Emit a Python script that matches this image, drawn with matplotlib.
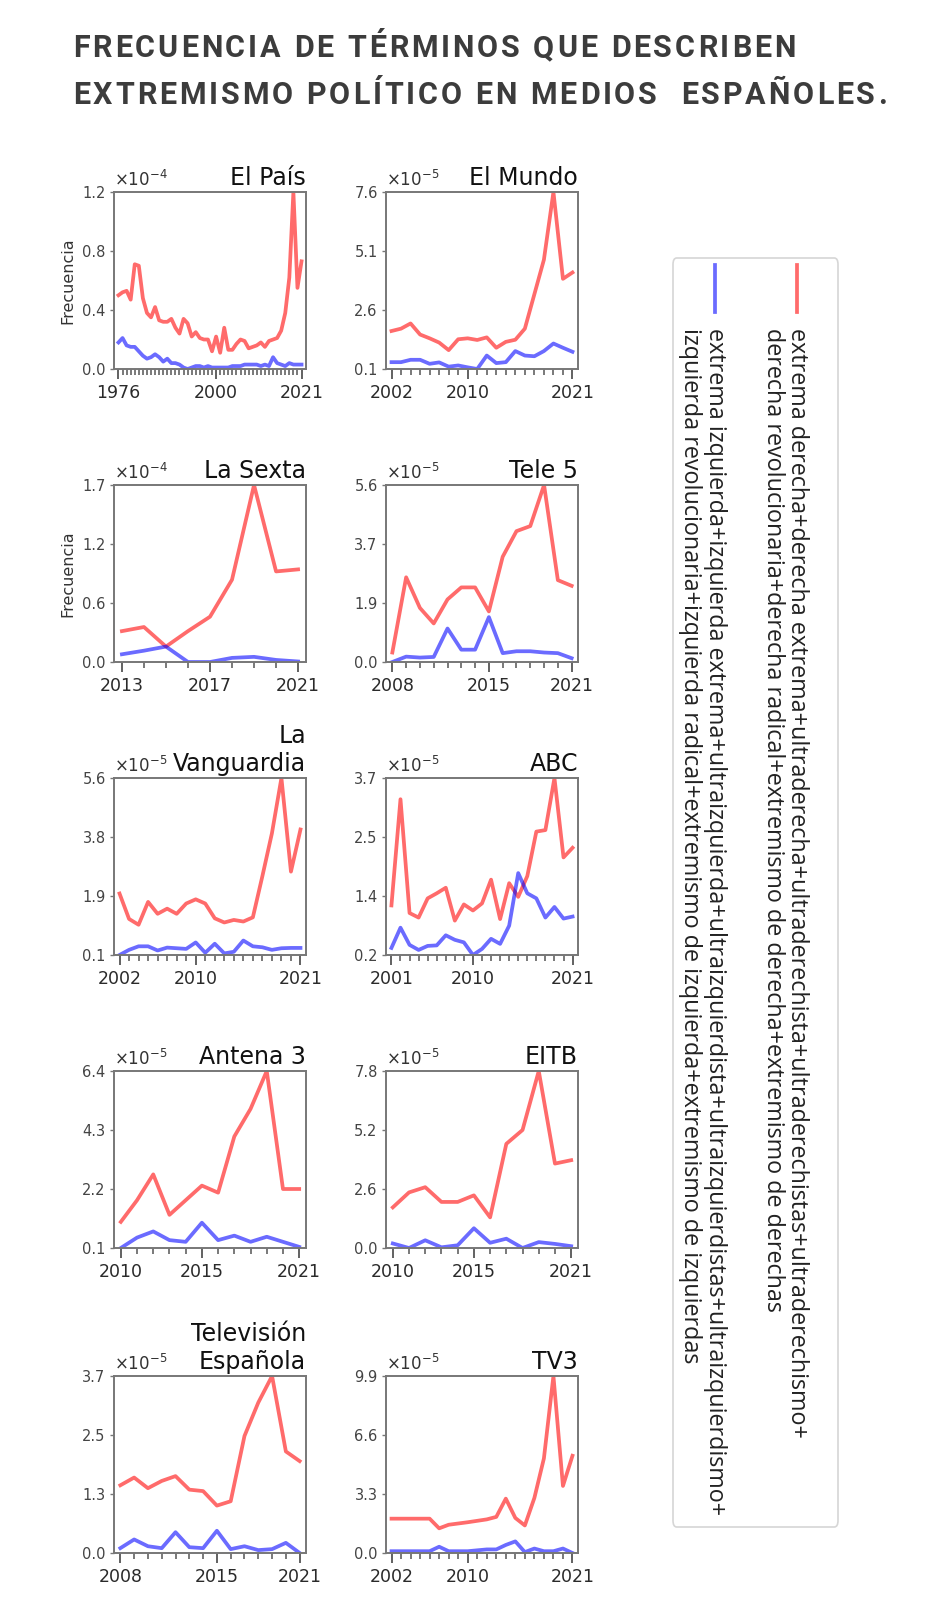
import numpy as np
import matplotlib
matplotlib.use("Agg")
import matplotlib.pyplot as plt
from matplotlib.patches import FancyBboxPatch
from matplotlib.lines import Line2D
from matplotlib.ticker import FixedLocator
from matplotlib.font_manager import FontProperties

# ---------------- data ----------------
TITLE_LINES = ["FRECUENCIA DE TÉRMINOS QUE DESCRIBEN",
               "EXTREMISMO POLÍTICO EN MEDIOS  ESPAÑOLES."]

media = ["El País", "El Mundo", "La Sexta", "Tele 5", "La\nVanguardia",
         "ABC", "Antena 3", "EITB", "Televisión\nEspañola", "TV3"]
first_year = [1976, 2002, 2013, 2008, 2002, 2001, 2010, 2010, 2008, 2002]
xtick_labels = [[1976, 2000, 2021], [2002, 2010, 2021], [2013, 2017, 2021],
                [2008, 2015, 2021], [2002, 2010, 2021], [2001, 2010, 2021],
                [2010, 2015, 2021], [2010, 2015, 2021], [2008, 2015, 2021],
                [2002, 2010, 2021]]
exponents = [-4, -5, -4, -5, -5, -5, -5, -5, -5, -5]
ylabel_on = [True, False, True, False, False, False, False, False, False, False]

legend_labels = [
    "extrema derecha+derecha extrema+ultraderecha+ultraderechista+ultraderechistas+ultraderechismo+",
    "derecha revolucionaria+derecha radical+extremismo de derecha+extremismo de derechas",
    "extrema izquierda+izquierda extrema+ultraizquierda+ultraizquierdista+ultraizquierdistas+ultraizquierdismo+",
    "izquierda revolucionaria+izquierda radical+extremismo de izquierda+extremismo de izquierdas",
]

# values in units of 10^exponent
pais_red = [0.50, 0.52, 0.53, 0.47, 0.71, 0.70, 0.48, 0.38, 0.35, 0.42,
            0.33, 0.32, 0.32, 0.34, 0.28, 0.24, 0.34, 0.31, 0.22, 0.25,
            0.21, 0.20, 0.20, 0.12, 0.22, 0.11, 0.28, 0.13, 0.13, 0.17,
            0.20, 0.19, 0.14, 0.15, 0.16, 0.18, 0.15, 0.19, 0.20, 0.21,
            0.26, 0.38, 0.62, 1.20, 0.55, 0.73]
pais_blue = [0.18, 0.21, 0.16, 0.15, 0.15, 0.12, 0.09, 0.07, 0.08, 0.10,
             0.08, 0.05, 0.07, 0.04, 0.04, 0.03, 0.01, 0.00, 0.01, 0.02,
             0.02, 0.01, 0.02, 0.01, 0.01, 0.01, 0.01, 0.01, 0.02, 0.02,
             0.02, 0.03, 0.03, 0.03, 0.03, 0.02, 0.03, 0.02, 0.08, 0.04,
             0.03, 0.02, 0.04, 0.03, 0.03, 0.03]
mundo_red = [1.71, 1.81, 2.03, 1.56, 1.40, 1.22, 0.90, 1.36, 1.40, 1.33,
             1.44, 1.00, 1.25, 1.34, 1.81, 3.27, 4.73, 7.60, 3.92, 4.19]
mundo_blue = [0.39, 0.39, 0.49, 0.49, 0.32, 0.38, 0.20, 0.25, 0.17, 0.10,
              0.67, 0.35, 0.39, 0.86, 0.67, 0.64, 0.86, 1.18, 1.00, 0.83]
sexta_red = [0.31, 0.35, 0.16, 0.31, 0.45, 0.81, 1.73, 0.89, 0.91]
sexta_blue = [0.085, 0.12, 0.16, 0.01, 0.01, 0.05, 0.06, 0.03, 0.015]
tele5_red = [0.30, 2.68, 1.71, 1.22, 1.98, 2.36, 2.36, 1.60, 3.33, 4.14,
             4.30, 5.60, 2.59, 2.41]
tele5_blue = [0.00, 0.17, 0.14, 0.16, 1.06, 0.39, 0.39, 1.42, 0.28, 0.34,
              0.34, 0.30, 0.28, 0.12]
vang_red = [2.01, 1.22, 1.04, 1.75, 1.38, 1.54, 1.38, 1.70, 1.83, 1.70,
            1.24, 1.11, 1.19, 1.14, 1.27, 2.55, 3.88, 5.60, 2.69, 4.00]
vang_blue = [0.10, 0.26, 0.37, 0.37, 0.24, 0.33, 0.31, 0.29, 0.49, 0.17,
             0.45, 0.15, 0.20, 0.55, 0.37, 0.34, 0.26, 0.31, 0.32, 0.32]
abc_red = [1.18, 3.28, 1.03, 0.94, 1.32, 1.42, 1.53, 0.88, 1.20, 1.08,
           1.22, 1.69, 0.91, 1.62, 1.35, 1.76, 2.64, 2.67, 3.70, 2.13, 2.32]
abc_blue = [0.34, 0.74, 0.40, 0.30, 0.38, 0.39, 0.59, 0.50, 0.45, 0.20,
            0.32, 0.52, 0.42, 0.78, 1.82, 1.42, 1.32, 0.94, 1.15, 0.92, 0.96]
antena3_red = [1.03, 1.80, 2.72, 1.28, 1.80, 2.32, 2.07, 4.07, 5.05, 6.40,
               2.20, 2.20]
antena3_blue = [0.10, 0.47, 0.69, 0.38, 0.32, 1.00, 0.38, 0.54, 0.32, 0.50,
                0.32, 0.14]
eitb_red = [1.79, 2.45, 2.68, 2.03, 2.03, 2.32, 1.35, 4.59, 5.20, 7.80,
            3.72, 3.87]
eitb_blue = [0.20, 0.00, 0.34, 0.03, 0.12, 0.87, 0.23, 0.41, 0.00, 0.26,
             0.18, 0.08]
tve_red = [1.44, 1.60, 1.38, 1.53, 1.63, 1.35, 1.32, 1.02, 1.11, 2.46,
           3.15, 3.70, 2.14, 1.94]
tve_blue = [0.14, 0.32, 0.18, 0.14, 0.47, 0.16, 0.14, 0.50, 0.12, 0.18,
            0.10, 0.12, 0.25, 0.04]
tv3_red = [1.92, 1.92, 1.92, 1.92, 1.92, 1.38, 1.58, 1.65, 1.72, 1.80,
           1.88, 2.02, 3.04, 1.96, 1.54, 3.08, 5.29, 9.90, 3.75, 5.44]
tv3_blue = [0.10, 0.10, 0.10, 0.10, 0.10, 0.35, 0.10, 0.10, 0.10, 0.15,
            0.20, 0.20, 0.45, 0.65, 0.05, 0.25, 0.10, 0.10, 0.25, 0.00]

red_series = [pais_red, mundo_red, sexta_red, tele5_red, vang_red,
              abc_red, antena3_red, eitb_red, tve_red, tv3_red]
blue_series = [pais_blue, mundo_blue, sexta_blue, tele5_blue, vang_blue,
               abc_blue, antena3_blue, eitb_blue, tve_blue, tv3_blue]

# ---------------- layout ----------------
W, H = 940, 1622
fig = plt.figure(figsize=(W / 100, H / 100), dpi=100)
fig.patch.set_facecolor("white")
renderer = fig.canvas.get_renderer()

RED = (1.0, 0.0, 0.0, 0.58)
BLUE = (0.0, 0.0, 1.0, 0.58)
LW = 2.7
SPINE = "#777777"

col_x = [114, 386]
row_top = [192, 485, 778, 1071, 1376]
ax_w, ax_h = 192, 177


def fig_rect(x0, top, w, h):
    return [x0 / W, 1 - (top + h) / H, w / W, h / H]


# Title with letter spacing (tracking)
title_fp = FontProperties(family="Roboto", weight="bold", size=22)
TRACK = 2.9  # px between letters


def text_w(s):
    w, _, _ = renderer.get_text_width_height_descent(s, title_fp, ismath=False)
    return w


for li, line in enumerate(TITLE_LINES):
    y = 1 - (57 + 47 * li) / H
    for i, ch in enumerate(line):
        if ch == " ":
            continue
        x = 73 + (text_w(line[:i + 1]) - text_w(ch)) + i * TRACK
        fig.text(x / W, y, ch, ha="left", va="baseline",
                 fontproperties=title_fp, color="#3c3c3c")

for k, name in enumerate(media):
    r, c = divmod(k, 2)
    ax = fig.add_axes(fig_rect(col_x[c], row_top[r], ax_w, ax_h))
    scale = 10.0 ** exponents[k]
    red = np.array(red_series[k]) * scale
    blue = np.array(blue_series[k]) * scale
    years = np.arange(first_year[k], first_year[k] + len(red))
    ax.plot(years, red, color=RED, lw=LW)
    ax.plot(years, blue, color=BLUE, lw=LW)

    lo = min(red.min(), blue.min())
    hi = max(red.max(), blue.max())
    ax.set_ylim(lo, hi)
    yt = np.linspace(lo, hi, 4)
    ax.set_yticks(yt)
    ax.set_yticklabels([f"{v / scale:.1f}" for v in yt])

    span = years[-1] - years[0]
    ax.set_xlim(years[0] - 0.02 * span - 0.2, years[-1] + 0.02 * span + 0.2)
    ax.set_xticks(xtick_labels[k])
    ax.set_xticklabels([str(y) for y in xtick_labels[k]])
    ax.xaxis.set_minor_locator(FixedLocator(years))

    ax.tick_params(axis="x", which="major", length=7, width=1.3,
                   color="#555555", labelsize=12.5, labelcolor="#2a2a2a", pad=4)
    ax.tick_params(axis="x", which="minor", length=4, width=1.1,
                   color="#555555")
    ax.tick_params(axis="y", which="major", length=3, width=1.0,
                   color="#777777", labelsize=10.5, labelcolor="#444444", pad=3)
    for s in ax.spines.values():
        s.set_color(SPINE)
        s.set_linewidth(1.4)

    ax.set_title(name, loc="right", fontsize=17, pad=5, color="#111111")
    ax.text(0.0, 1.012, r"$\times10^{%d}$" % exponents[k],
            transform=ax.transAxes, ha="left", va="bottom", fontsize=12,
            color="#333333")
    if ylabel_on[k]:
        ax.set_ylabel("Frecuencia", fontsize=11.5, color="#333333", labelpad=5)

# ---------------- legend (rotated) ----------------
lx0, lx1, ly0, ly1 = 673, 838, 258, 1527
box = FancyBboxPatch((lx0 / W, 1 - ly1 / H), (lx1 - lx0) / W, (ly1 - ly0) / H,
                     boxstyle="round,pad=0,rounding_size=0.004",
                     transform=fig.transFigure, facecolor="white",
                     edgecolor="#d6d6d6", linewidth=1.2, zorder=1)
fig.patches.append(box)

handle_x = [797, 715]
handle_col = [RED, BLUE]
for hx, colr in zip(handle_x, handle_col):
    fig.add_artist(Line2D([hx / W, hx / W], [1 - 265 / H, 1 - 312 / H],
                          transform=fig.transFigure, color=colr, lw=LW,
                          zorder=2))

text_x = [797, 773, 715, 690]
for tx, lab in zip(text_x, legend_labels):
    fig.text(tx / W, 1 - 328 / H, lab, rotation=270, ha="center", va="top",
             fontfamily="Open Sans", fontsize=16.8, color="#222222", zorder=3)

fig.savefig("out.png", dpi=100, facecolor="white")
